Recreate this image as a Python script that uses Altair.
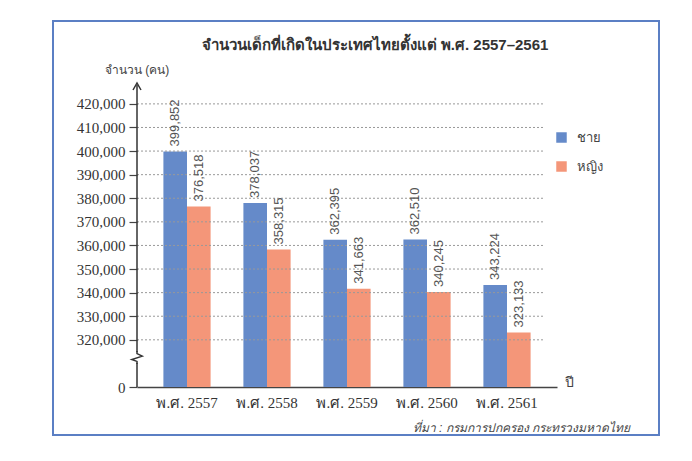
import altair as alt
import pandas as pd

years = ["พ.ศ. 2557", "พ.ศ. 2558", "พ.ศ. 2559", "พ.ศ. 2560", "พ.ศ. 2561"]
male = [399852, 378037, 362395, 362510, 343224]
female = [376518, 358315, 341663, 340245, 323133]
sexes = ["ชาย", "หญิง"]
colors = ["#658AC9", "#F49679"]
tick_values = [300000, 320000, 330000, 340000, 350000, 360000, 370000,
               380000, 390000, 400000, 410000, 420000]
grid_values = tick_values[1:]
base = 300000
top = 428000

rows = []
for y, m, f in zip(years, male, female):
    rows.append({"year": y, "sex": sexes[0], "value": m})
    rows.append({"year": y, "sex": sexes[1], "value": f})
df = pd.DataFrame(rows)
df["base"] = base

yscale = alt.Scale(domain=[base, top], zero=False)
yaxis_obj = alt.Axis(values=tick_values, title=None, domain=False, grid=False,
                     tickSize=8, tickColor="#444", tickWidth=1.2,
                     labelExpr="datum.value == 300000 ? '0' : format(datum.value, ',')",
                     labelFont="Liberation Serif", labelFontSize=15,
                     labelColor="#333", labelPadding=4)
xenc = alt.X("year:N", sort=years,
             scale=alt.Scale(paddingInner=0.41, paddingOuter=0.33),
             axis=alt.Axis(title=None, labelAngle=0, ticks=False,
                           domainColor="#444", domainWidth=1.5,
                           labelFont="Liberation Serif", labelFontSize=15,
                           labelColor="#333", labelPadding=8))

one = pd.DataFrame({"k": [0]})

frame = alt.Chart(one).mark_rect(fillOpacity=0, stroke="#5B7FC4", strokeWidth=2).encode(
    x=alt.value(-84), x2=alt.value(522), y=alt.value(-64), y2=alt.value(350))

bars = alt.Chart(df).mark_bar().encode(
    x=xenc,
    xOffset=alt.XOffset("sex:N", sort=sexes, scale=alt.Scale(paddingInner=0, paddingOuter=0)),
    y=alt.Y("value:Q", scale=yscale, axis=yaxis_obj),
    y2="base:Q",
    color=alt.Color("sex:N", sort=sexes, scale=alt.Scale(domain=sexes, range=colors),
                    legend=alt.Legend(title=None, orient="none", legendX=418, legendY=46,
                                      symbolType="square", symbolSize=110,
                                      symbolStrokeWidth=0, labelFontSize=13,
                                      labelColor="#444", rowPadding=15, labelOffset=9)),
)

grid = alt.Chart(pd.DataFrame({"v": grid_values})).mark_rule(
    color="#999", strokeDash=[2, 2], strokeWidth=1).encode(
    y=alt.Y("v:Q", scale=yscale, axis=yaxis_obj),
    x=alt.value(0), x2=alt.value(406))

labels = alt.Chart(df).mark_text(angle=270, align="left", baseline="middle", dx=5,
                                 fontSize=13, color="#555", font="Liberation Sans").encode(
    x=xenc,
    xOffset=alt.XOffset("sex:N", sort=sexes),
    y=alt.Y("value:Q", scale=yscale, axis=yaxis_obj),
    text=alt.Text("value:Q", format=","))

axis_segs = pd.DataFrame({"y1": [base, 314800], "y2": [310200, top]})
yaxis = alt.Chart(axis_segs).mark_rule(color="#333", strokeWidth=1.5).encode(
    x=alt.value(0),
    y=alt.Y("y1:Q", scale=yscale, axis=yaxis_obj), y2="y2:Q")

zig = alt.Chart(pd.DataFrame({"v": [312500]})).mark_point(
    shape="M0,-1 L0,-0.6 L0.8,-0.2 L-0.8,0.3 L0,0.6 L0,1",
    filled=False, size=170, color="#333", strokeWidth=1.5, opacity=1).encode(
    x=alt.value(0), y=alt.Y("v:Q", scale=yscale, axis=yaxis_obj))

arrow = alt.Chart(one).mark_point(
    shape="M-0.8,0.4 L0,-1 L0.8,0.4", filled=False, size=100,
    color="#333", strokeWidth=1.5, opacity=1).encode(
    x=alt.value(0), y=alt.value(3))

title = alt.Chart(one).mark_text(text="จำนวนเด็กที่เกิดในประเทศไทยตั้งแต่ พ.ศ. 2557–2561",
                                 fontSize=15, fontWeight="bold", color="#333",
                                 align="center", baseline="middle").encode(
    x=alt.value(238), y=alt.value(-40))

ytitle = alt.Chart(one).mark_text(text="จำนวน (คน)", fontSize=12, color="#444",
                                  align="center", baseline="middle").encode(
    x=alt.value(0), y=alt.value(-15))

xtitle = alt.Chart(one).mark_text(text="ปี", fontSize=14, color="#444",
                                  align="left", baseline="middle").encode(
    x=alt.value(428), y=alt.value(298))

source = alt.Chart(one).mark_text(text="ที่มา :  กรมการปกครอง กระทรวงมหาดไทย",
                                  fontSize=12, fontStyle="italic", color="#444",
                                  align="right", baseline="middle").encode(
    x=alt.value(493), y=alt.value(343))

chart = alt.layer(bars, frame, grid, labels, yaxis, zig, arrow,
                  title, ytitle, xtitle, source).properties(
    width=420, height=302,
    padding={"left": 129, "top": 77, "right": 127, "bottom": 66},
    autosize=alt.AutoSizeParams(type="none"),
).configure_view(stroke=None)

chart.save("out.html", embed_options={"renderer": "svg", "actions": False})
